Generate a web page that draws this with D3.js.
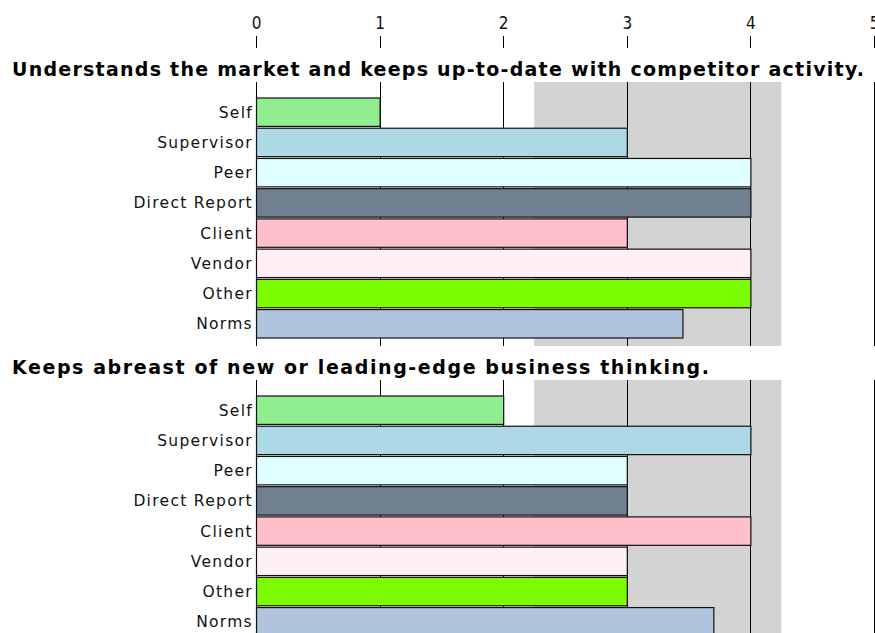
<!DOCTYPE html>
<html>
<head>
<meta charset="utf-8">
<script src="https://cdn.jsdelivr.net/npm/d3@7"></script>
<style>
  body { margin: 0; background: #fff; }
  text { font-family: "DejaVu Sans", sans-serif; }
</style>
</head>
<body>
<div id="chart"></div>
<script>
const categories = ["Self", "Supervisor", "Peer", "Direct Report", "Client", "Vendor", "Other", "Norms"];
const barColors = ["#90ee90", "#add8e6", "#e0ffff", "#708090", "#ffc0cb", "#fff0f5", "#7cfc00", "#b0c4de"];
const questions = [
  "Understands the market and keeps up-to-date with competitor activity.",
  "Keeps abreast of new or leading-edge business thinking."
];
const marketValues = [1, 3, 4, 4, 3, 4, 4, 3.45];
const thinkingValues = [2, 4, 3, 3, 4, 3, 3, 3.7];
const normBand = [2.25, 4.25];
const tickValues = [0, 1, 2, 3, 4, 5];

const width = 875, height = 633;
const panelTops = [82, 380];
const panelHeight = 264;
const titleWidths = [852, 697];

const svg = d3.select("#chart").append("svg").attr("width", width).attr("height", height);

const x = d3.scaleLinear().domain([0, 5]).range([256, 874]);

// top axis
const axis = svg.append("g").attr("transform", "translate(0,48)")
  .call(d3.axisTop(x).tickValues(tickValues).tickSize(12).tickPadding(7).tickFormat(d3.format("d")));
axis.select(".domain").remove();
axis.selectAll("line").attr("stroke", "#000").attr("shape-rendering", "crispEdges");
axis.selectAll("text").attr("font-size", 17).attr("fill", "#111")
  .style("font-family", "DejaVu Sans Condensed, DejaVu Sans, sans-serif");

[marketValues, thinkingValues].forEach((values, p) => {
  const top = panelTops[p];
  const g = svg.append("g");

  const y = d3.scaleBand().domain(categories).range([top + 16, top + 256]).paddingInner(0.06);

  const title = g.append("text")
    .attr("x", 12).attr("y", top - 6)
    .attr("font-size", 19).attr("font-weight", "bold").attr("fill", "#000")
    .text(questions[p]);
  const len = title.node().getComputedTextLength();
  title.attr("letter-spacing", (titleWidths[p] - len) / (questions[p].length - 1));

  g.append("rect")
    .attr("x", x(normBand[0])).attr("width", x(normBand[1]) - x(normBand[0]))
    .attr("y", top).attr("height", panelHeight)
    .attr("fill", "#d3d3d3");

  g.selectAll("line.grid").data(tickValues).join("line")
    .attr("class", "grid")
    .attr("x1", d => Math.round(x(d)) + 0.5).attr("x2", d => Math.round(x(d)) + 0.5)
    .attr("y1", top).attr("y2", top + panelHeight)
    .attr("stroke", "#000");

  g.selectAll("rect.bar").data(values).join("rect")
    .attr("class", "bar")
    .attr("x", x(0) + 0.5)
    .attr("y", (d, i) => y(categories[i]))
    .attr("width", d => x(d) - x(0))
    .attr("height", y.bandwidth())
    .attr("fill", (d, i) => barColors[i])
    .attr("stroke", "#111").attr("stroke-width", 1.2);

  g.selectAll("text.label").data(categories).join("text")
    .attr("class", "label")
    .attr("x", 253)
    .attr("y", d => y(d) + y.bandwidth() / 2)
    .attr("dy", "0.36em")
    .attr("text-anchor", "end")
    .attr("font-size", 15.5)
    .attr("letter-spacing", 1.3)
    .attr("fill", "#111")
    .text(d => d);
});
</script>
</body>
</html>
